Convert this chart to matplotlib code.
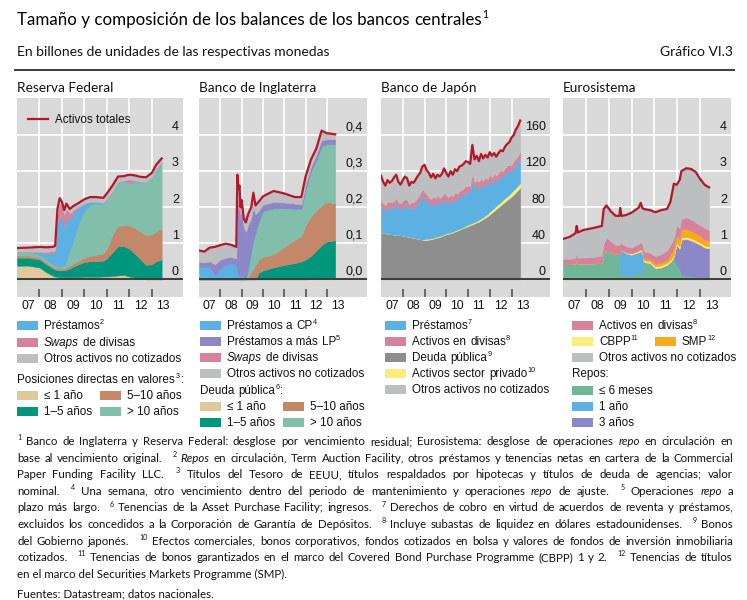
import re
import numpy as np
import matplotlib
matplotlib.use("Agg")
import matplotlib.pyplot as plt
from matplotlib.patches import Rectangle
from matplotlib.lines import Line2D

W, H = 747, 600

# ---- data: upper edge of every stacked band ----
# Reserva Federal (billones USD)
fed_t = [2007.0, 2007.5, 2008.0, 2008.3, 2008.6, 2008.7, 2008.8, 2008.9, 2009.0, 2009.1,
         2009.2, 2009.35, 2009.5, 2009.75, 2010.0, 2010.25, 2010.5, 2010.85, 2011.0, 2011.25,
         2011.5, 2011.75, 2012.0, 2012.25, 2012.5, 2012.75, 2013.0, 2013.2, 2013.44]
fed_le1 = [0.38, 0.38, 0.33, 0.20, 0.10, 0.08, 0.07, 0.06, 0.06, 0.06, 0.06, 0.06, 0.06, 0.06, 0.07,
           0.07, 0.07, 0.08, 0.08, 0.09, 0.11, 0.12, 0.08, 0.05, 0.02, 0.0, 0.0, 0.0, 0.0]
fed_1_5 = [0.60, 0.60, 0.55, 0.42, 0.30, 0.27, 0.25, 0.25, 0.25, 0.25, 0.27, 0.30, 0.35, 0.42, 0.48,
           0.50, 0.50, 0.52, 0.58, 0.75, 0.92, 0.92, 0.85, 0.70, 0.55, 0.40, 0.42, 0.50, 0.55]
fed_5_10 = [0.66, 0.66, 0.60, 0.47, 0.35, 0.32, 0.30, 0.30, 0.30, 0.30, 0.33, 0.38, 0.44, 0.52, 0.60,
            0.65, 0.68, 0.72, 0.85, 1.25, 1.48, 1.50, 1.50, 1.42, 1.33, 1.22, 1.25, 1.33, 1.40]
fed_gt10 = [0.76, 0.76, 0.68, 0.55, 0.42, 0.38, 0.35, 0.34, 0.35, 0.38, 0.50, 0.80, 1.05, 1.55, 1.90,
            2.05, 2.10, 2.08, 2.20, 2.40, 2.68, 2.70, 2.66, 2.68, 2.68, 2.68, 2.82, 3.05, 3.22]
fed_loans = [0.77, 0.77, 0.75, 0.72, 0.72, 0.75, 1.50, 1.70, 1.75, 1.45, 1.65, 1.65, 1.85, 2.00, 2.10,
             2.15, 2.15, 2.12, 2.23, 2.43, 2.70, 2.72, 2.68, 2.70, 2.70, 2.70, 2.84, 3.07, 3.24]
fed_swaps = [0.77, 0.77, 0.77, 0.76, 0.78, 0.80, 1.80, 2.10, 2.05, 1.80, 1.95, 1.82, 1.92, 2.02, 2.10,
             2.15, 2.15, 2.12, 2.23, 2.43, 2.70, 2.74, 2.78, 2.74, 2.71, 2.70, 2.84, 3.07, 3.24]
fed_total = [0.87, 0.88, 0.90, 0.89, 0.90, 0.93, 1.95, 2.25, 2.15, 1.92, 2.10, 1.95, 2.03, 2.12, 2.22,
             2.28, 2.28, 2.26, 2.38, 2.60, 2.85, 2.86, 2.90, 2.88, 2.84, 2.83, 2.95, 3.18, 3.35]

# Banco de Inglaterra (billones GBP)
boe_t = [2007.0, 2007.25, 2007.5, 2007.75, 2008.0, 2008.25, 2008.5, 2008.75, 2008.8, 2008.85,
         2008.9, 2008.95, 2009.0, 2009.1, 2009.2, 2009.3, 2009.45, 2009.55, 2009.65, 2009.8,
         2010.0, 2010.5, 2011.0, 2011.5, 2011.8, 2012.0, 2012.25, 2012.5, 2012.75, 2013.0, 2013.39]
boe_le1 = [0, 0, 0, 0, 0, 0, 0, 0, 0, 0, 0, 0, 0, 0, 0, 0, 0, 0, 0, 0,
           0, 0, 0, 0, 0, 0.0, 0.003, 0.004, 0.005, 0.005, 0.005]
boe_1_5 = [0, 0, 0, 0, 0, 0, 0, 0, 0, 0, 0, 0, 0, 0, 0, 0, 0, 0, 0, 0.018,
           0.025, 0.033, 0.040, 0.045, 0.050, 0.055, 0.065, 0.080, 0.095, 0.105, 0.108]
boe_5_10 = [0, 0, 0, 0, 0, 0, 0, 0, 0, 0, 0, 0, 0, 0, 0, 0.005, 0.020, 0.030, 0.040, 0.055,
            0.062, 0.070, 0.090, 0.110, 0.120, 0.150, 0.175, 0.190, 0.205, 0.215, 0.210]
boe_gt10 = [0, 0, 0, 0, 0, 0, 0, 0, 0, 0, 0, 0, 0, 0, 0, 0.030, 0.080, 0.110, 0.130, 0.160,
            0.190, 0.197, 0.197, 0.196, 0.196, 0.250, 0.300, 0.330, 0.370, 0.375, 0.375]
boe_cp = [0.035, 0.033, 0.035, 0.012, 0.030, 0.040, 0.045, 0.040, 0.020, 0.010, 0.010, 0.010, 0.010,
          0.005, 0.0, 0.030, 0.080, 0.110, 0.130, 0.160, 0.190, 0.197, 0.197, 0.196, 0.196, 0.250,
          0.300, 0.330, 0.370, 0.375, 0.375]
boe_lp = [0.048, 0.047, 0.050, 0.042, 0.055, 0.060, 0.062, 0.058, 0.220, 0.190, 0.200, 0.165, 0.185,
          0.140, 0.130, 0.150, 0.170, 0.200, 0.180, 0.190, 0.207, 0.215, 0.213, 0.210, 0.208, 0.262,
          0.312, 0.345, 0.385, 0.388, 0.388]
boe_swaps = [0.048, 0.047, 0.050, 0.042, 0.055, 0.060, 0.062, 0.058, 0.250, 0.220, 0.225, 0.180,
             0.195, 0.145, 0.132, 0.150, 0.170, 0.200, 0.180, 0.190, 0.207, 0.215, 0.213, 0.210,
             0.208, 0.262, 0.312, 0.345, 0.385, 0.388, 0.388]
boe_total = [0.080, 0.077, 0.088, 0.090, 0.095, 0.099, 0.096, 0.090, 0.290, 0.250, 0.260, 0.200,
             0.220, 0.168, 0.158, 0.180, 0.200, 0.240, 0.205, 0.215, 0.230, 0.245, 0.238, 0.228,
             0.228, 0.285, 0.332, 0.362, 0.412, 0.405, 0.402]

# Banco de Japon (billones JPY), one reading every 0.1 year
boj_t = np.round(np.arange(2007.0, 2013.45, 0.1), 1)
boj_jgb = [52, 51.5, 51, 50.5, 50, 50, 49.5, 49.5, 49, 49,
           48.5, 48, 47.5, 47, 46.5, 46, 45.5, 45, 44.5, 44,
           43.5, 43.5, 44, 44.5, 45, 46, 46.5, 47, 48, 49,
           50, 50.5, 51, 52, 53, 54, 55, 56, 57, 58,
           59, 60, 61, 62, 63, 64, 65.5, 67, 68.5, 70,
           72, 74, 76, 78, 80, 82, 84, 86, 88, 90,
           92, 94, 96.5, 99, 102]
boj_priv = [52, 51.5, 51, 50.5, 50, 50, 49.5, 49.5, 49, 49,
            48.5, 48, 47.5, 47, 46.5, 46, 45.5, 45, 44.5, 44,
            44.5, 45, 45.2, 45.5, 46, 47, 47.5, 48, 49, 50,
            51, 51.5, 52, 53, 54, 55, 56, 57, 58, 59.5,
            60.5, 61.5, 62.5, 63.5, 64.5, 66, 67.5, 69, 71, 72.5,
            75, 77, 79, 81.5, 83.5, 85.5, 88, 90, 92, 94,
            96.5, 99, 101.5, 104, 107]
boj_loans = [82, 78, 76, 79, 80, 78, 80, 84, 79, 78,
             80, 83, 82, 77, 80, 79, 82, 84, 88, 93,
             90, 87, 84, 81, 85, 83, 86, 83, 85, 89,
             86, 84, 87, 85, 90, 88, 92, 93, 95, 96,
             98, 97, 110, 101, 103, 101, 105, 102, 106, 104,
             109, 106, 111, 108, 112, 115, 113, 117, 119, 121,
             120, 124, 127, 130, 134]
boj_fx = [88, 84, 82, 86, 86, 85, 87, 90, 85, 84,
          87, 89, 88, 83, 86, 85, 88, 91, 95, 100,
          97, 94, 91, 89, 92, 90, 93, 90, 92, 96,
          93, 91, 94, 92, 96, 95, 98, 99, 101, 103,
          104, 103, 118, 108, 110, 108, 112, 109, 113, 111,
          116, 113, 117, 115, 118, 121, 120, 123, 126, 127,
          127, 131, 134, 137, 142]
boj_total = [115, 108, 104, 110, 107, 109, 113, 116, 108, 105,
             110, 114, 112, 104, 108, 107, 111, 115, 118, 125,
             127, 121, 118, 113, 117, 112, 116, 114, 117, 123,
             118, 114, 120, 116, 122, 120, 125, 126, 128, 131,
             130, 128, 149, 133, 137, 131, 139, 134, 138, 135,
             141, 137, 140, 136, 140, 143, 142, 147, 150, 152,
             157, 160, 166, 170, 176]

# Eurosistema (billones EUR)
eu_t = [2007.0, 2007.3, 2007.55, 2007.6, 2007.65, 2007.9, 2008.3, 2008.7, 2008.78, 2008.9,
        2009.1, 2009.3, 2009.47, 2009.5, 2009.56, 2009.75, 2010.0, 2010.3, 2010.4, 2010.47,
        2010.53, 2010.8, 2011.05, 2011.3, 2011.55, 2011.7, 2011.85, 2011.97, 2012.1, 2012.18,
        2012.4, 2012.6, 2012.8, 2013.0, 2013.2, 2013.39]
eu_6m = [0.42, 0.42, 0.44, 0.58, 0.44, 0.44, 0.44, 0.46, 0.75, 0.80, 0.75, 0.70, 0.70, 0.15, 0.14,
         0.12, 0.10, 0.18, 0.20, 0.20, 0.48, 0.38, 0.30, 0.33, 0.40, 0.48, 0.62, 0.40, 0.30, 0.12,
         0.10, 0.10, 0.08, 0.06, 0.06, 0.06]
eu_1y = [0.42, 0.42, 0.44, 0.58, 0.44, 0.44, 0.44, 0.46, 0.75, 0.80, 0.75, 0.70, 0.70, 0.82, 0.80,
         0.72, 0.68, 0.75, 0.78, 0.70, 0.48, 0.45, 0.30, 0.33, 0.40, 0.48, 0.62, 0.40, 0.30, 0.12,
         0.10, 0.10, 0.08, 0.06, 0.06, 0.06]
eu_3y = [0.42, 0.42, 0.44, 0.58, 0.44, 0.44, 0.44, 0.46, 0.75, 0.80, 0.75, 0.70, 0.70, 0.82, 0.80,
         0.72, 0.68, 0.75, 0.78, 0.70, 0.48, 0.45, 0.30, 0.33, 0.40, 0.48, 0.62, 0.95, 0.85, 1.10,
         1.12, 1.08, 1.02, 0.96, 0.88, 0.86]
eu_cbpp = [0.42, 0.42, 0.44, 0.58, 0.44, 0.44, 0.44, 0.46, 0.75, 0.80, 0.75, 0.70, 0.70, 0.82, 0.82,
           0.75, 0.72, 0.80, 0.83, 0.75, 0.53, 0.50, 0.36, 0.39, 0.46, 0.54, 0.68, 1.01, 0.91, 1.16,
           1.18, 1.14, 1.08, 1.02, 0.94, 0.92]
eu_smp = [0.42, 0.42, 0.44, 0.58, 0.44, 0.44, 0.44, 0.46, 0.75, 0.80, 0.75, 0.70, 0.70, 0.82, 0.82,
          0.75, 0.72, 0.80, 0.85, 0.79, 0.58, 0.57, 0.44, 0.47, 0.54, 0.70, 0.88, 1.22, 1.12, 1.38,
          1.40, 1.35, 1.28, 1.21, 1.11, 1.07]
eu_fx = [0.57, 0.57, 0.60, 0.73, 0.60, 0.61, 0.62, 0.66, 1.00, 1.15, 1.05, 0.95, 0.95, 1.02, 1.00,
         0.92, 0.88, 0.98, 1.05, 0.97, 0.78, 0.74, 0.64, 0.70, 0.80, 0.95, 1.15, 1.50, 1.42, 1.68,
         1.72, 1.66, 1.58, 1.50, 1.42, 1.36]
eu_total = [1.12, 1.18, 1.28, 1.48, 1.30, 1.37, 1.42, 1.48, 1.95, 2.05, 1.88, 1.76, 1.76, 1.98, 1.76,
            1.78, 1.85, 1.98, 2.12, 1.98, 1.95, 1.92, 1.86, 1.92, 1.95, 2.15, 2.65, 2.62, 2.75, 3.00,
            3.08, 3.06, 2.98, 2.78, 2.62, 2.55]

year_labels = ["07", "08", "09", "10", "11", "12", "13"]

# colours
BG = "#d9d9d9"
RED = "#b2172b"
TAN = "#dfc89b"
TEAL = "#00967d"
BROWN = "#c4876a"
LTEAL = "#82bfab"
BLUE = "#5cb0e2"
PINK = "#d6829b"
GREY = "#bdbec0"
PURPLE = "#8c87c6"
DGREY = "#8e8e8e"
YELLOW = "#f7ec7c"
ORANGE = "#f8a91c"
GREEN = "#70b797"

SANS = ["Liberation Sans", "DejaVu Sans"]
HUM = ["Lato", "DejaVu Sans"]
plt.rcParams["font.family"] = SANS

fig = plt.figure(figsize=(W / 100, H / 100), dpi=100)
rend = fig.canvas.get_renderer()


def width_of(s, size, family, style="normal"):
    t = fig.text(0, 0, s, fontsize=size, family=family, style=style)
    w = t.get_window_extent(rend).width
    t.remove()
    return w


def parse(line):
    # words -> list of (text, style); ^12 = superscript, *x* = italic
    words = []
    for word in line.split(" "):
        if not word:
            continue
        out = []
        for p in re.split(r"(\^\d+|\*[^*]+\*)", word):
            if not p:
                continue
            if p[0] == "^":
                out.append((p[1:], "sup"))
            elif p[0] == "*":
                out.append((p[1:-1], "italic"))
            else:
                out.append((p, "normal"))
        words.append(out)
    return words


def runs(words, merge):
    # (text, style, space_before, is_note)
    out = []
    for i, w in enumerate(words):
        for j, (t, st) in enumerate(w):
            new_word = j == 0 and i > 0
            if (merge and new_word and out and st != "sup" and out[-1][1] == st
                    and len(w) == 1 and words[i - 1][-1][1] == st):
                out[-1] = (out[-1][0] + " " + t, st, out[-1][2], out[-1][3])
            else:
                out.append((t, st, new_word, j == 0 and st == "sup"))
    return out


def rich(x, y, line, size, family, width=None, color="#111111", note_gap=1):
    # x, y in pixels from the top-left corner, y is the baseline
    rs = runs(parse(line), merge=width is None)
    sp = width_of("n n", size, family) - width_of("nn", size, family)
    ssize = size * 0.62
    meas = [width_of(t, ssize if st == "sup" else size, family,
                     "italic" if st == "italic" else "normal") for t, st, _, _ in rs]
    # tiny padding after each run, almost none in front of a glued superscript
    pads = []
    for k in range(len(rs)):
        nxt = rs[k + 1] if k + 1 < len(rs) else None
        pads.append(0.1 if (nxt and nxt[1] == "sup" and not nxt[2]) else 0.8)
    gaps = [0 if not spb else sp * (note_gap if note else 1) for t, st, spb, note in rs]
    if width is not None:
        n = sum(1 for r in rs if r[2])
        natural = sum(meas) + sum(gaps) + sum(pads[:-1])
        extra = (width - natural) / max(n, 1)
        gaps = [g + (extra if r[2] else 0) for g, r in zip(gaps, rs)]
    cx = x
    for (t, st, spb, note), mw, g, pd in zip(rs, meas, gaps, pads):
        cx += g
        if st == "sup":
            yy = y - size * 0.42 * 100 / 72
            fig.text(cx / W, 1 - yy / H, t, fontsize=ssize, family=family, va="baseline", color=color)
        else:
            fig.text(cx / W, 1 - y / H, t, fontsize=size, family=family, va="baseline",
                     style="italic" if st == "italic" else "normal", color=color)
        cx += mw + pd


def stack(ax, t, tops, colors):
    lo = np.zeros(len(t))
    for top, c in zip(tops, colors):
        top = np.asarray(top, dtype=float)
        ax.fill_between(t, lo, top, facecolor=c, edgecolor=c, lw=0.3, zorder=1)
        lo = top


def panel(l, r, xmax, unit, ticks, labels, title):
    top, bot, zero = 98, 297, 279.4
    ax = fig.add_axes([l / W, 1 - bot / H, (r - l) / W, (bot - top) / H])
    ax.set_facecolor(BG)
    ymax = (zero - top) / 36.1 * unit
    ax.set_xlim(2007, xmax)
    ax.set_ylim(-(bot - zero) / 36.1 * unit, ymax)
    for s in ax.spines.values():
        s.set_visible(False)
    for v in ticks[1:]:
        ax.axhline(v, color="white", lw=1.2, zorder=0.5)
    for yr in range(2008, 2014):
        ax.plot([yr, yr], [0, ymax], color="white", lw=1.2, zorder=0.5)
    ax.axhline(0, color="#3c3c3c", lw=1.4, zorder=5)
    ax.set_xticks(range(2008, 2014))
    ax.set_xticklabels([])
    ax.tick_params(axis="x", which="major", direction="in", length=5.5, width=1.1, color="#4a4a4a")
    ax.set_xticks(np.arange(2007.5, 2014, 1.0), minor=True)
    ax.set_xticklabels(year_labels, minor=True)
    ax.tick_params(axis="x", which="minor", length=0, labelsize=8.8, pad=2.5, labelcolor="#111111")
    ax.set_yticks([])
    for v, lab in zip(ticks, labels):
        ax.annotate(lab, xy=(1, v), xycoords=("axes fraction", "data"), xytext=(-3, 1.2),
                    textcoords="offset points", ha="right", va="bottom", fontsize=9, color="#111111")
    fig.text(l / W, 1 - 92 / H, title, fontsize=9.8, family=HUM, va="baseline", color="#111111")
    return ax


# ---- header ----
rich(17, 25, "Tamaño y composición de los balances de los bancos centrales^1", 12.2, HUM, color="black")
fig.text(17 / W, 1 - 56 / H, "En billones de unidades de las respectivas monedas", fontsize=10,
         family=HUM, va="baseline", color="#111111")
fig.text(733 / W, 1 - 56 / H, "Gráfico VI.3", fontsize=10, family=HUM, va="baseline",
         ha="right", color="#111111")
fig.add_artist(Line2D([15 / W, 734 / W], [1 - 70 / H] * 2, color="#3c3c3c", lw=1.4))

# ---- panels ----
ax1 = panel(17, 183, 2014.39, 1, [0, 1, 2, 3, 4], ["0", "1", "2", "3", "4"], "Reserva Federal")
stack(ax1, fed_t, [fed_le1, fed_1_5, fed_5_10, fed_gt10, fed_loans, fed_swaps, fed_total],
      [TAN, TEAL, BROWN, LTEAL, BLUE, PINK, GREY])
ax1.plot(fed_t, fed_total, color=RED, lw=1.6, zorder=4)
fig.add_artist(Line2D([28 / W, 48 / W], [1 - 119 / H] * 2, color=RED, lw=1.6))
fig.text(55 / W, 1 - 123 / H, "Activos totales", fontsize=8.4, va="baseline", color="#111111")

ax2 = panel(199, 367, 2014.88, 0.1, [0, 0.1, 0.2, 0.3, 0.4], ["0,0", "0,1", "0,2", "0,3", "0,4"],
            "Banco de Inglaterra")
stack(ax2, boe_t, [boe_le1, boe_1_5, boe_5_10, boe_gt10, boe_cp, boe_lp, boe_swaps, boe_total],
      [TAN, TEAL, BROWN, LTEAL, BLUE, PURPLE, PINK, GREY])
ax2.plot(boe_t, boe_total, color=RED, lw=1.6, zorder=4)

ax3 = panel(381, 550, 2014.77, 40, [0, 40, 80, 120, 160], ["0", "40", "80", "120", "160"],
            "Banco de Japón")
stack(ax3, boj_t, [boj_jgb, boj_priv, boj_loans, boj_fx, boj_total],
      [DGREY, YELLOW, BLUE, PINK, GREY])
ax3.plot(boj_t, boj_total, color=RED, lw=1.6, zorder=4)

ax4 = panel(563, 731, 2014.35, 1, [0, 1, 2, 3, 4], ["0", "1", "2", "3", "4"], "Eurosistema")
stack(ax4, eu_t, [eu_6m, eu_1y, eu_3y, eu_cbpp, eu_smp, eu_fx, eu_total],
      [GREEN, BLUE, PURPLE, YELLOW, ORANGE, PINK, GREY])
ax4.plot(eu_t, eu_total, color=RED, lw=1.6, zorder=4)

# ---- legends ----
LS = 8.4


def item(x, yc, color, label):
    fig.add_artist(Rectangle((x / W, 1 - (yc + 4.5) / H), 21 / W, 9 / H, transform=fig.transFigure,
                             facecolor=color, edgecolor="none"))
    rich(x + 27, yc + 4, label, LS, SANS)


item(17, 325, BLUE, "Préstamos^2")
item(17, 342, PINK, "*Swaps* de divisas")
item(17, 358, GREY, "Otros activos no cotizados")
rich(17, 383, "Posiciones directas en valores^3:", LS, SANS)
item(17, 395, TAN, "≤ 1 año")
item(100, 395, BROWN, "5–10 años")
item(17, 411, TEAL, "1–5 años")
item(100, 411, LTEAL, "> 10 años")

item(200, 325, BLUE, "Préstamos a CP^4")
item(200, 341, PURPLE, "Préstamos a más LP^5")
item(200, 357, PINK, "*Swaps* de divisas")
item(200, 373, GREY, "Otros activos no cotizados")
rich(200, 394, "Deuda pública^6:", LS, SANS)
item(200, 406, TAN, "≤ 1 año")
item(283, 406, BROWN, "5–10 años")
item(200, 422, TEAL, "1–5 años")
item(283, 422, LTEAL, "> 10 años")

item(385, 325, BLUE, "Préstamos^7")
item(385, 341, PINK, "Activos en divisas^8")
item(385, 357, DGREY, "Deuda pública^9")
item(385, 373, YELLOW, "Activos sector privado^10")
item(385, 389, GREY, "Otros activos no cotizados")

item(572, 325, PINK, "Activos en divisas^8")
item(572, 341, YELLOW, "CBPP^11")
item(655, 341, ORANGE, "SMP^12")
item(572, 357, GREY, "Otros activos no cotizados")
rich(572, 377, "Repos:", LS, SANS)
item(572, 390, GREEN, "≤ 6 meses")
item(572, 406, BLUE, "1 año")
item(572, 422, PURPLE, "3 años")

# ---- footnotes ----
notes = [
    "^1 Banco de Inglaterra y Reserva Federal: desglose por vencimiento residual; Eurosistema: desglose de operaciones *repo* en circulación en",
    "base al vencimiento original. ^2 *Repos* en circulación, Term Auction Facility, otros préstamos y tenencias netas en cartera de la Commercial",
    "Paper Funding Facility LLC. ^3 Títulos del Tesoro de EEUU, títulos respaldados por hipotecas y títulos de deuda de agencias; valor",
    "nominal. ^4 Una semana, otro vencimiento dentro del periodo de mantenimiento y operaciones *repo* de ajuste. ^5 Operaciones *repo* a",
    "plazo más largo. ^6 Tenencias de la Asset Purchase Facility; ingresos. ^7 Derechos de cobro en virtud de acuerdos de reventa y préstamos,",
    "excluidos los concedidos a la Corporación de Garantía de Depósitos. ^8 Incluye subastas de liquidez en dólares estadounidenses. ^9 Bonos",
    "del Gobierno japonés. ^10 Efectos comerciales, bonos corporativos, fondos cotizados en bolsa y valores de fondos de inversión inmobiliaria",
    "cotizados. ^11 Tenencias de bonos garantizados en el marco del Covered Bond Purchase Programme (CBPP) 1 y 2. ^12 Tenencias de títulos",
    "en el marco del Securities Markets Programme (SMP).",
]
FN = 8.3
for i, line in enumerate(notes):
    rich(17, 445 + i * 16.6, line, FN, HUM, width=716 if i < len(notes) - 1 else None, note_gap=3)
rich(17, 597, "Fuentes: Datastream; datos nacionales.", FN, HUM)

fig.savefig("out.png", dpi=100, facecolor="white")
